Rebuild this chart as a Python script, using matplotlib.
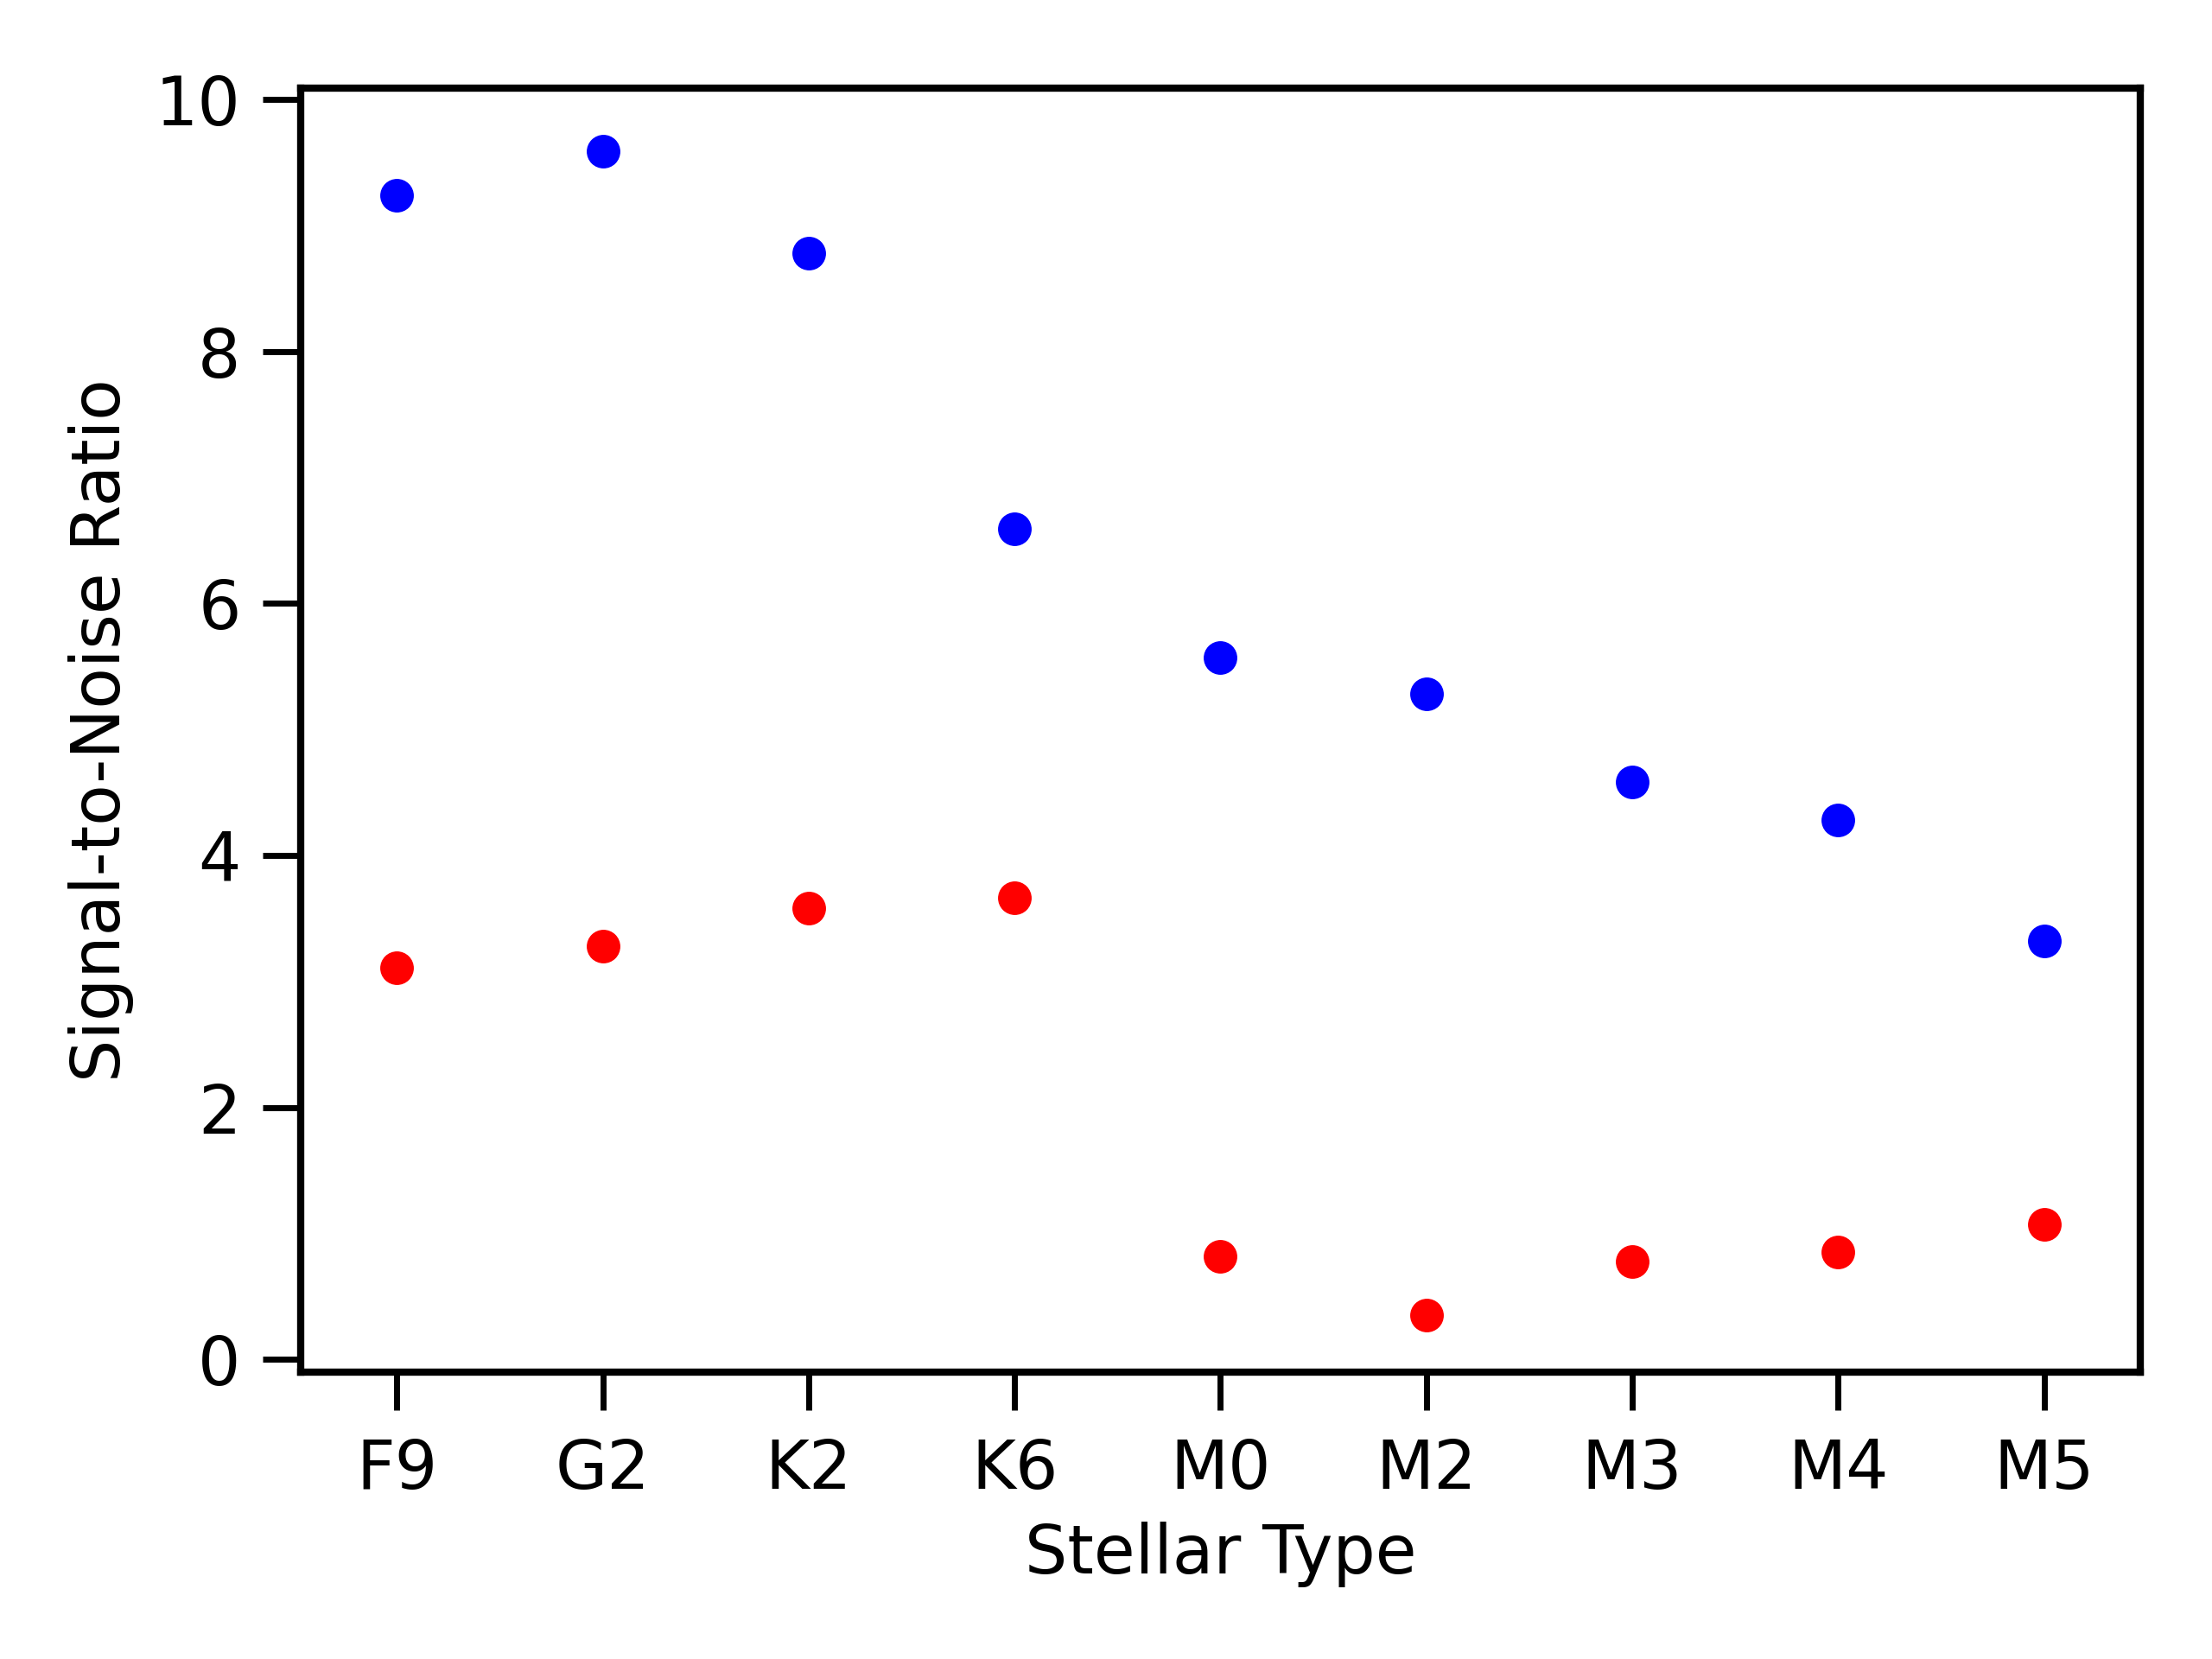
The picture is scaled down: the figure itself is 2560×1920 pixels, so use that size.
import matplotlib
matplotlib.use("Agg")
import matplotlib.pyplot as plt

stellar_types = ["F9", "G2", "K2", "K6", "M0", "M2", "M3", "M4", "M5"]
snr_blue = [9.24, 9.59, 8.78, 6.59, 5.57, 5.28, 4.58, 4.28, 3.32]
snr_red = [3.11, 3.28, 3.58, 3.66, 0.82, 0.35, 0.78, 0.85, 1.07]


def main():
    fig = plt.figure(figsize=(6.4, 4.8), dpi=400)
    ax = fig.add_axes([0.136, 0.173, 0.8315, 0.774])

    x = list(range(len(stellar_types)))
    ax.plot(x, snr_blue, "o", color="blue", markersize=7, markeredgewidth=0)
    ax.plot(x, snr_red, "o", color="red", markersize=7, markeredgewidth=0)

    ax.set_xticks(x)
    ax.set_xticklabels(stellar_types)
    ax.set_xlim(-0.466, 8.466)
    ax.set_ylim(-0.1, 10.09)
    ax.set_yticks([0, 2, 4, 6, 8, 10])

    ax.set_xlabel("Stellar Type", fontsize=14)
    ax.set_ylabel("Signal-to-Noise Ratio", fontsize=14, labelpad=4.5)
    ax.tick_params(labelsize=14, length=8, width=1.25)
    ax.tick_params(axis="x", pad=5.5)
    ax.tick_params(axis="y", pad=4.5)
    for spine in ax.spines.values():
        spine.set_linewidth(1.5)

    fig.savefig("out.png", dpi=400)


if __name__ == "__main__":
    main()
